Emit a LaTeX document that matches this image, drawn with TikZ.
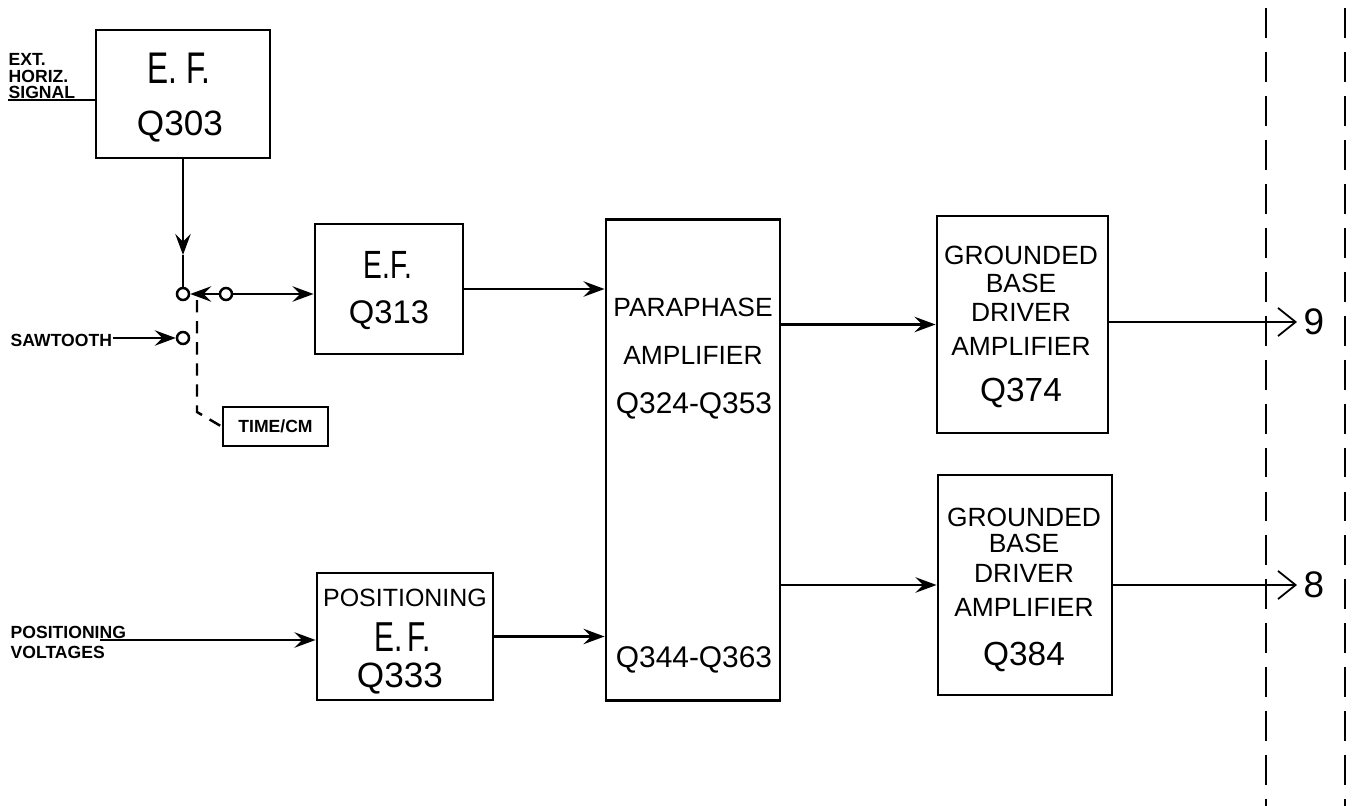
\documentclass[tikz,border=0pt]{standalone}
\usepackage{fontspec}
\setmainfont{Liberation Sans}
\usepackage{tikz}
\usetikzlibrary{arrows.meta,positioning,calc}

\newcommand{\tall}[1]{\scalebox{1}[1.4]{#1}}

\begin{document}
\begin{tikzpicture}[
  x=0.01cm, y=-0.01cm,
  blk/.style={draw, line width=0.8pt, inner sep=0pt},
  txt/.style={inner sep=0pt, font=\fontsize{7.5}{9}\selectfont},
  qtxt/.style={inner sep=0pt, font=\fontsize{9.5}{11}\selectfont},
  lbl/.style={inner sep=0pt, anchor=west, font=\fontsize{5}{6}\selectfont\bfseries},
  pin/.style={circle, draw, line width=0.7pt, minimum size=0.12cm, inner sep=0pt},
  wire/.style={line width=0.7pt},
  arr/.style={-{Stealth[length=6pt,width=4.4pt,inset=2.2pt]}, line width=0.7pt},
  outarr/.style={-{Straight Barb[length=5pt,width=8pt]}, line width=0.5pt},
  gang/.style={line width=0.7pt, dash pattern=on 3.5pt off 2.5pt},
  edge/.style={line width=0.8pt, dash pattern=on 8.5pt off 4pt}
]
  \useasboundingbox (0,0) rectangle (1353,806);

  % --- blocks ---
  \node[blk, minimum width=1.74cm, minimum height=1.28cm] (efA) at (183,94) {};
  \node[txt, font=\fontsize{9}{11}\selectfont] (efA1) at (179,68) {\tall{E.\ F.}};
  \node[qtxt, font=\fontsize{10}{12}\selectfont] (efA2) at (180,127) {Q303};

  \node[blk, minimum width=1.48cm, minimum height=1.30cm] (efB) at (389,289) {};
  \node[txt, font=\fontsize{8}{10}\selectfont] (efB1) at (388,265) {\tall{E.F.}};
  \node[qtxt, font=\fontsize{9.3}{11}\selectfont] (efB2) at (389,315) {Q313};

  \node[blk, minimum width=1.74cm, minimum height=4.80cm] (para) at (693,460) {};
  \node[txt] (para1) at (693,307) {PARAPHASE};
  \node[txt] (para2) at (693,355) {AMPLIFIER};
  \node[qtxt, font=\fontsize{8.5}{10}\selectfont] (para3) at (694,406) {Q324-Q353};
  \node[qtxt, font=\fontsize{8.5}{10}\selectfont] (para4) at (694,660) {Q344-Q363};

  \node[blk, minimum width=1.71cm, minimum height=2.17cm] (gbdA) at (1022.5,324.5) {};
  \node[txt] (gbdA1) at (1021,255) {GROUNDED};
  \node[txt] (gbdA2) at (1021,283) {BASE};
  \node[txt] (gbdA3) at (1021,312) {DRIVER};
  \node[txt] (gbdA4) at (1021,346) {AMPLIFIER};
  \node[qtxt] (gbdA5) at (1021,393) {Q374};

  \node[blk, minimum width=1.74cm, minimum height=2.20cm] (gbdB) at (1025,585) {};
  \node[txt] (gbdB1) at (1024,517) {GROUNDED};
  \node[txt] (gbdB2) at (1024,543) {BASE};
  \node[txt] (gbdB3) at (1024,573) {DRIVER};
  \node[txt] (gbdB4) at (1024,607) {AMPLIFIER};
  \node[qtxt] (gbdB5) at (1024,657) {Q384};

  \node[blk, minimum width=1.76cm, minimum height=1.27cm] (pos) at (405,636.5) {};
  \node[txt, font=\fontsize{7.1}{9}\selectfont] (pos1) at (405,598) {POSITIONING};
  \node[txt, font=\fontsize{8.5}{10}\selectfont] (pos2) at (403,637) {\tall{E.\,F.}};
  \node[qtxt, font=\fontsize{10}{12}\selectfont] (pos3) at (400,679) {Q333};

  \node[blk, lbl, anchor=center, minimum width=1.05cm, minimum height=0.39cm] (time) at (275.5,426.5) {TIME/CM};

  % --- switch ---
  \node[pin] (c1) at (183,294) {};
  \node[pin] (c2) at (226,294) {};
  \node[pin] (c3) at (183,338) {};

  % --- input labels ---
  \node[lbl] (ext) at (8,59) {EXT.};
  \node[lbl] (horiz) at (8,76) {HORIZ.};
  \node[lbl] (sig) at (8,92) {SIGNAL};
  \node[lbl] (saw) at (10,340) {SAWTOOTH};
  \node[lbl] (posv) at (10,632) {POSITIONING};
  \node[lbl] (volt) at (10,652) {VOLTAGES};

  \coordinate (sigin) at (8,100);
  \coordinate (posin) at (100,640);
  \coordinate (dn) at (183,255);
  \coordinate (gtop) at (197,300);
  \coordinate (gbend) at (197,412);
  \coordinate (o9) at (1297,322);
  \coordinate (o8) at (1297,585);

  % --- connectors ---
  \draw[wire] (sigin) -- (sigin -| efA.west);
  \draw[arr] (efA.south) -- (dn);
  \draw[wire] (dn) -- (c1.north);
  \draw[arr] (c2.west) -- (c1.east);
  \draw[arr] (c2.east) -- (c2 -| efB.west);
  \draw[arr] (c3 -| saw.east) -- (c3.west);
  \draw[gang] (gtop) -- (gbend) -- (time.west);
  \draw[arr] (posin) -- (posin -| pos.west);
  \draw[arr] (efB.east) -- (efB.east -| para.west);
  \draw[arr] (pos.east) -- (pos.east -| para.west);
  \draw[arr] (para.east |- gbdA.west) -- (gbdA.west);
  \draw[arr] (para.east |- gbdB.west) -- (gbdB.west);

  % outputs
  \draw[outarr] (gbdA.east |- o9) -- (o9);
  \draw[outarr] (gbdB.east |- o8) -- (o8);
  \node[qtxt, font=\fontsize{10.5}{12}\selectfont] (n9) at (1314,322) {9};
  \node[qtxt, font=\fontsize{10.5}{12}\selectfont] (n8) at (1314,585) {8};

  % --- chassis edge ---
  \coordinate (eA1) at (1266,8);
  \coordinate (eA2) at (1266,806);
  \coordinate (eB1) at (1345,8);
  \coordinate (eB2) at (1345,806);
  \draw[edge] (eA1) -- (eA2);
  \draw[edge] (eB1) -- (eB2);
\end{tikzpicture}
\end{document}
